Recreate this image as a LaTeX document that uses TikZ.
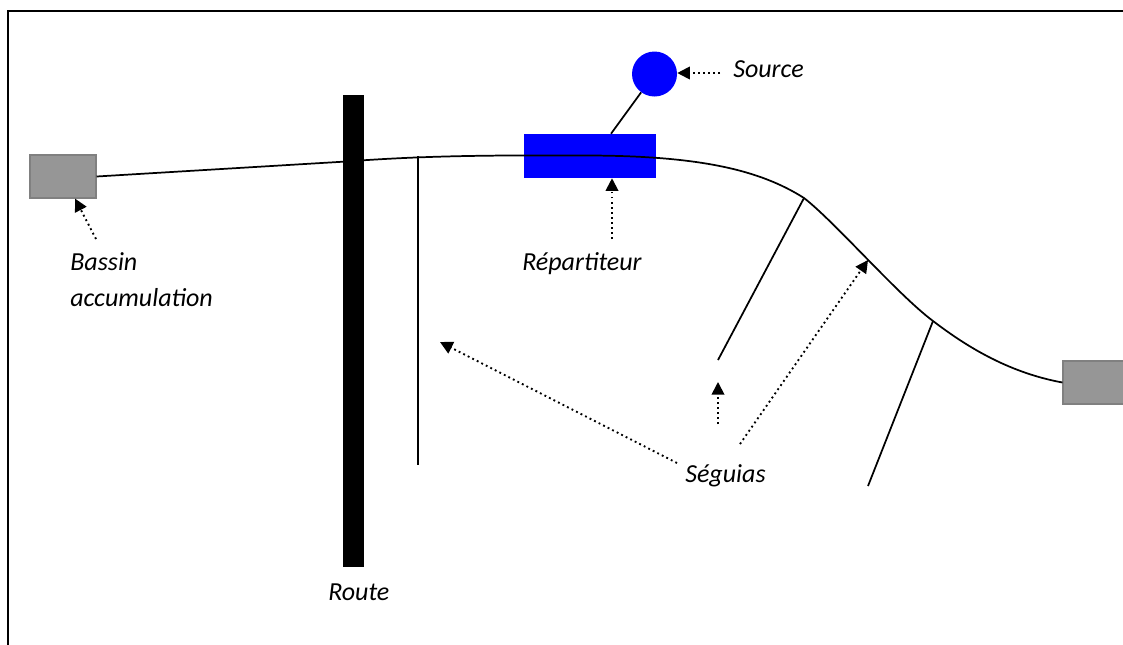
\documentclass[tikz,border=0pt]{standalone}
\usepackage{fontspec}
\setmainfont{Carlito}
\usetikzlibrary{arrows.meta}

\begin{document}
\begin{tikzpicture}[x=0.75pt,y=0.75pt,yscale=-1,xscale=1,
  bassinbox/.style={rectangle,fill={rgb,255:red,150;green,150;blue,150},draw={rgb,255:red,128;green,128;blue,128},line width=0.8pt,minimum width=49.5pt,minimum height=32.25pt,inner sep=0pt},
  canal/.style={line width=1.3pt},
  annot/.style={line width=1.4pt,dash pattern=on 1.4pt off 2.4pt,-{Triangle[length=9.5pt,width=9.5pt]}},
  lbl/.style={inner sep=0pt,font=\fontsize{19.5}{27}\selectfont\itshape}]
\useasboundingbox (0,0) rectangle (1123,644);

%Frame
	\draw [line width=1.5pt] (8,700) -- (8,11) -- (1200,11) ;

%Shape: Bassins
	\node [bassinbox] (bassin) at (63,176.5) {};
	\node [bassinbox] (bassin2) at (1096,382.5) {};
%Shape: Route
	\node [rectangle,fill=black,minimum width=15.75pt,minimum height=354pt,inner sep=0pt] (route) at (353.5,331) {};
%Shape: Repartiteur
	\node [rectangle,fill={rgb,255:red,0;green,0;blue,255},minimum width=99pt,minimum height=33pt,inner sep=0pt] (repartiteur) at (590,156) {};
%Shape: Source
	\node [circle,fill={rgb,255:red,0;green,0;blue,255},minimum size=33.75pt,inner sep=0pt] (source) at (654.5,74) {};

%Canal
	\coordinate (j1) at (804,198);
	\coordinate (j2) at (933,321);
	\draw [canal] (bassin.east) -- (343,161.7) .. controls (420,156) and (480,155) .. (590,155.5) .. controls (700,156) and (760,170) .. (j1) .. controls (835,222) and (897,294) .. (j2) .. controls (962,343) and (1005,372) .. (bassin2.west) ;
	\draw [canal] (source) -- ([xshift=15.75pt]repartiteur.north) ;
%Seguias
	\draw [canal] (418,156) -- (418,465) ;
	\draw [canal] (j1) -- (718,360) ;
	\draw [canal] (j2) -- (868,486) ;

% Text Node
	\node [lbl,anchor=base west] (lsource) at (733,77) {Source};
	\node [lbl,anchor=base west] (lrepartiteur) at (522,270) {Répartiteur};
	\node [lbl,anchor=base west,align=left] (lbassin) at (70,306) {Bassin\\accumulation};
	\node [lbl,anchor=base west] (lroute) at (328,600) {Route};
	\node [lbl,anchor=base west] (lseguias) at (685,482) {Séguias};

%Arrows
	\coordinate (as) at (720,73);
	\coordinate (ar) at (612,239);
	\coordinate (ab) at (96,239);
	\coordinate (ag1) at (677,463);
	\coordinate (ag2) at (718,424);
	\coordinate (ag3) at (740,444);
	\coordinate (tg1) at (440,342);
	\coordinate (tg2) at (718,382);
	\coordinate (tg3) at (868,260);
	\draw [annot] (as) -- (as -| source.east) ;
	\draw [annot] (ar) -- (ar |- repartiteur.south) ;
	\draw [annot] (ab) -- ([xshift=9pt]bassin.south) ;
	\draw [annot] (ag1) -- (tg1) ;
	\draw [annot] (ag2) -- (tg2) ;
	\draw [annot] (ag3) -- (tg3) ;

\end{tikzpicture}
\end{document}
